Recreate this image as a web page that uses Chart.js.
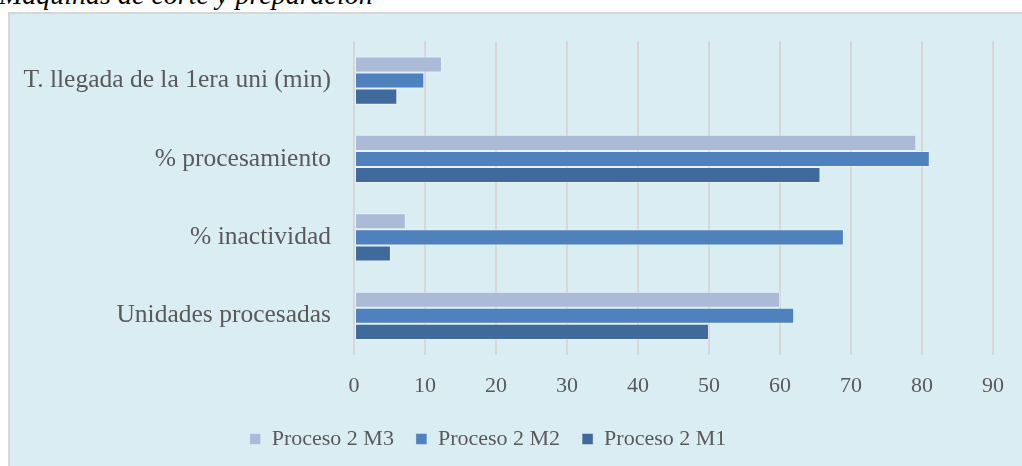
<!DOCTYPE html>
<html lang="es">
<head>
<meta charset="utf-8">
<title>Máquinas de corte y preparación</title>
<script src="https://cdn.jsdelivr.net/npm/chart.js@4/dist/chart.umd.min.js"></script>
<style>
  html, body { margin: 0; padding: 0; width: 1022px; height: 466px; overflow: hidden; background: #ffffff; }
  #title {
    position: absolute; left: -1px; top: -19px;
    font: italic 28px "Liberation Serif", "DejaVu Serif", serif;
    line-height: 1; color: #000; white-space: nowrap;
  }
  #panel {
    position: absolute; left: 8px; top: 12px; width: 1040px; height: 480px;
    background: #DAEDF3; border-left: 2px solid #D6D6D6; border-top: 2px solid #D6D6D6;
  }
  #wrap { position: absolute; left: -17px; top: 3px; width: 1039px; height: 463px; }
</style>
</head>
<body>
<div id="title">Máquinas de corte y preparación</div>
<div id="panel"></div>
<div id="wrap"><canvas id="chart"></canvas></div>
<script>
// Indicadores por categoría (de arriba hacia abajo)
const categories = [
  'T. llegada de la 1era uni (min)',
  '% procesamiento',
  '% inactividad',
  'Unidades procesadas'
];
const seriesNames = ['Proceso 2 M3', 'Proceso 2 M2', 'Proceso 2 M1'];
const valuesM3 = [12.4, 79.2, 7.3, 60];
const valuesM2 = [9.9, 81.1, 69.0, 62];
const valuesM1 = [6.1, 65.7, 5.2, 50];
const xTicks = [0, 10, 20, 30, 40, 50, 60, 70, 80, 90];

const colors = ['#AABAD7', '#4E81BD', '#406A9B'];
const serif = '"Liberation Serif", "DejaVu Serif", serif';
const textColor = '#595959';

const seriesValues = [valuesM3, valuesM2, valuesM1];

new Chart(document.getElementById('chart'), {
  type: 'bar',
  data: {
    labels: categories,
    datasets: seriesNames.map((name, i) => ({
      label: name,
      data: seriesValues[i],
      backgroundColor: colors[i],
      borderColor: 'rgba(255,255,255,0.35)',
      borderWidth: 1,
      borderSkipped: false,
      barPercentage: 1.0,
      categoryPercentage: 0.615
    }))
  },
  options: {
    indexAxis: 'y',
    responsive: true,
    maintainAspectRatio: false,
    animation: false,
    layout: { padding: { top: 0, right: 29, bottom: 6, left: 0 } },
    scales: {
      x: {
        min: xTicks[0],
        max: xTicks[xTicks.length - 1],
        afterBuildTicks: (scale) => { scale.ticks = xTicks.map(v => ({ value: v })); },
        afterFit: (scale) => { scale.height = 51; },
        grid: { color: '#D6D6D6', lineWidth: 2, drawTicks: false },
        border: { display: false },
        ticks: { color: textColor, font: { family: serif, size: 22 }, padding: 18 }
      },
      y: {
        afterFit: (scale) => { scale.width = 371; },
        grid: { display: false, drawTicks: false },
        border: { display: false },
        ticks: { color: textColor, font: { family: serif, size: 25.5 }, padding: 23 }
      }
    },
    plugins: {
      legend: {
        position: 'bottom',
        labels: {
          color: textColor,
          font: { family: serif, size: 22 },
          boxWidth: 11,
          boxHeight: 11,
          padding: 22
        }
      },
      tooltip: { enabled: false }
    }
  }
});
</script>
</body>
</html>
